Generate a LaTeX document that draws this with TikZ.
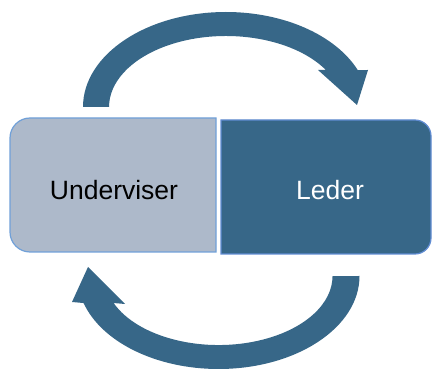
\documentclass[tikz,border=0pt]{standalone}
\usepackage{fontspec}
\setmainfont{Liberation Sans}
\definecolor{steelblue}{RGB}{55,103,136}
\definecolor{paleslate}{RGB}{173,185,202}
\definecolor{edgeblue}{RGB}{112,160,216}
\definecolor{edgeblueDark}{RGB}{96,140,210}
\begin{document}
\begin{tikzpicture}[x=1pt,y=1pt,
  cyclearrow/.style={fill=steelblue},
  lightbox/.style={fill=paleslate,draw=edgeblue,line width=1.2pt},
  darkbox/.style={fill=steelblue,draw=edgeblueDark,line width=1.2pt},
  boxlabel/.style={anchor=base,font=\fontsize{26.5}{32}\selectfont,inner sep=0pt}]
\useasboundingbox (0,0) rectangle (432,370);

% curved arrow over the top, pointing right
\fill[cyclearrow] (83,263)
  arc[start angle=180,end angle=22.9,x radius=143,y radius=95]
  -- (368,300) -- (357,265) -- (318,300) -- (325.9,300)
  arc[start angle=31.4,end angle=180,x radius=117,y radius=71]
  -- cycle;

% curved arrow underneath, pointing left
\fill[cyclearrow] (359.5,94)
  arc[start angle=0,end angle=-163.1,x radius=141,y radius=93]
  -- (72,68) -- (88,103) -- (125,66) -- (113.6,67)
  arc[start angle=-157,end angle=0,x radius=114,y radius=69]
  -- cycle;

% left box, rounded on its left side
\draw[lightbox] (216,118) -- (30,118)
  arc[start angle=270,end angle=180,radius=20] -- (10,232)
  arc[start angle=180,end angle=90,radius=20] -- (216,252) -- cycle;

% right box, rounded on its right side
\draw[darkbox] (221,116) -- (415,116)
  arc[start angle=-90,end angle=0,radius=16] -- (431,234)
  arc[start angle=0,end angle=90,radius=16] -- (221,250) -- cycle;

\node[boxlabel,text=black] (underviser) at (114,170) {Underviser};
\node[boxlabel,text=white] (leder) at (330,170) {Leder};
\end{tikzpicture}
\end{document}
